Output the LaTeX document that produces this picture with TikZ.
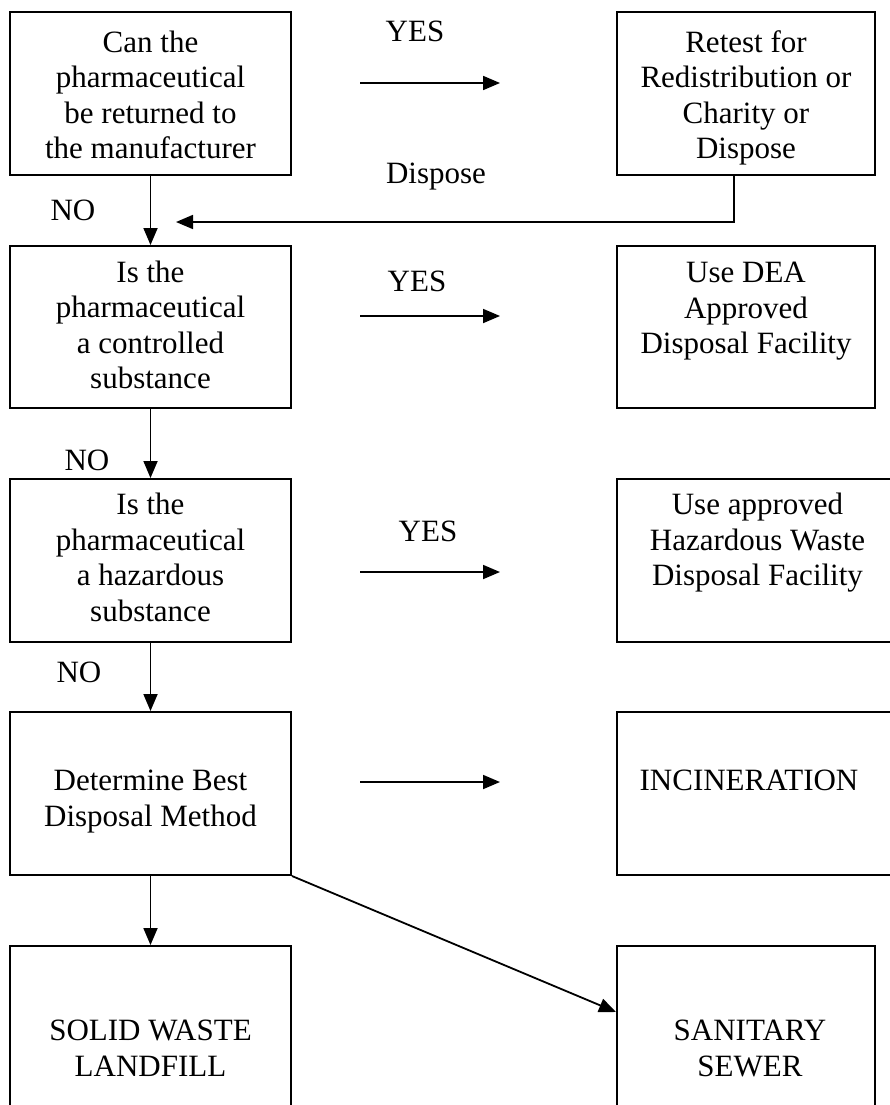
\documentclass[tikz,border=0pt]{standalone}
\usepackage{fontspec}
\setmainfont{Liberation Serif}
\usetikzlibrary{arrows.meta}
\begin{document}
\begin{tikzpicture}[x=1pt,y=-1pt,
  box/.style={draw, line width=2pt, rectangle, inner sep=0pt},
  txt/.style={font=\fontsize{31}{35.5}\selectfont, align=center, inner sep=0pt},
  lbl/.style={font=\fontsize{31}{35.5}\selectfont, inner sep=0pt, anchor=base},
  link/.style={line width=1.8pt, -{Triangle[length=17pt,width=14pt]}}
]
\useasboundingbox (0,0) rectangle (890,1105);
\fill[white] (0,0) rectangle (890,1105);
\clip (0,0) rectangle (890,1105);

% left column: decision boxes
\node[box, minimum width=281pt, minimum height=163pt] (b1) at (150.5,93.5) {};
\node[box, minimum width=281pt, minimum height=162pt] (b2) at (150.5,327) {};
\node[box, minimum width=281pt, minimum height=163pt] (b3) at (150.5,560.5) {};
\node[box, minimum width=281pt, minimum height=163pt] (b4) at (150.5,793.5) {};
\node[box, minimum width=281pt, minimum height=179pt] (b5) at (150.5,1035.5) {};

% right column: outcome boxes
\node[box, minimum width=258pt, minimum height=163pt] (r1) at (746,93.5) {};
\node[box, minimum width=258pt, minimum height=162pt] (r2) at (746,327) {};
\node[box, minimum width=281pt, minimum height=163pt] (r3) at (757.5,560.5) {};
\node[box, minimum width=281pt, minimum height=163pt] (r4) at (757.5,793.5) {};
\node[box, minimum width=258pt, minimum height=179pt] (r5) at (746,1035.5) {};

% box texts
\node[txt, anchor=north] (b1t) at (150.5,27.15) {\strut Can the\\pharmaceutical\\be returned to\\the manufacturer};
\node[txt, anchor=north] (b2t) at (150.5,257.15) {\strut Is the\\pharmaceutical\\a controlled\\substance};
\node[txt, anchor=north] (b3t) at (150.5,489.65) {\strut Is the\\pharmaceutical\\a hazardous\\substance};
\node[txt, anchor=north, font=\fontsize{31}{36.5}\selectfont] (b4t) at (150.5,764.5) {\strut Determine Best\\Disposal Method};
\node[txt, anchor=north, font=\fontsize{31}{36}\selectfont] (b5t) at (150.5,1014.8) {\strut SOLID WASTE\\LANDFILL};

\node[txt, anchor=north] (r1t) at (746,27.15) {\strut Retest for\\Redistribution or\\Charity or\\Dispose};
\node[txt, anchor=north] (r2t) at (746,257.65) {\strut Use DEA\\Approved\\Disposal Facility};
\node[txt, anchor=north] (r3t) at (757.5,489.65) {\strut Use approved\\Hazardous Waste\\Disposal Facility};
\node[lbl] (r4t) at (749,790) {INCINERATION};
\node[txt, anchor=north, font=\fontsize{31}{36}\selectfont] (r5t) at (750,1014.8) {\strut SANITARY\\SEWER};

% branch labels
\node[lbl] (yes1) at (415,42) {YES};
\node[lbl] (yes2) at (417,291) {YES};
\node[lbl] (yes3) at (428,541) {YES};
\node[lbl] (disp) at (436,183) {Dispose};
\node[lbl] (no1) at (73,220) {NO};
\node[lbl] (no2) at (87,470) {NO};
\node[lbl] (no3) at (79,682) {NO};

% free-standing horizontal arrows between the columns
\coordinate (h1a) at (360,83);  \coordinate (h1b) at (500,83);
\coordinate (h2a) at (360,316); \coordinate (h2b) at (500,316);
\coordinate (h3a) at (360,572); \coordinate (h3b) at (500,572);
\coordinate (h4a) at (360,782); \coordinate (h4b) at (500,782);
\draw[link] (h1a) -- (h1b);
\draw[link] (h2a) -- (h2b);
\draw[link] (h3a) -- (h3b);
\draw[link] (h4a) -- (h4b);

% NO chain down the left column
\draw[link] (b1) -- (b2);
\draw[link] (b2) -- (b3);
\draw[link] (b3) -- (b4);
\draw[link] (b4) -- (b5);

% return path from the retest box
\coordinate (dispEnd) at (176,222);
\draw[link] ([xshift=-12pt]r1.south) |- (dispEnd);

% diagonal to the sewer box
\draw[link] (b4.south east) -- ([yshift=-67pt]r5.north west);
\end{tikzpicture}
\end{document}
